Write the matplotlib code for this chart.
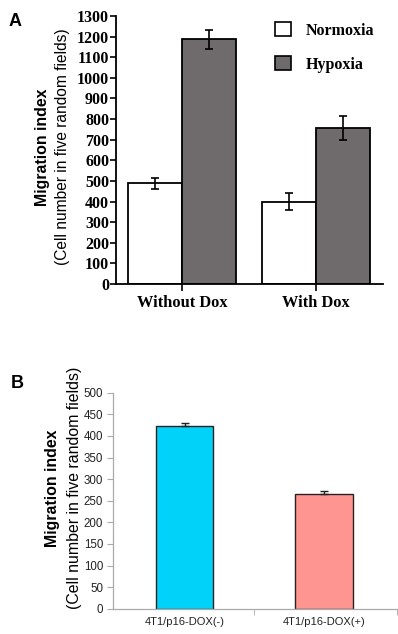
import matplotlib.pyplot as plt
from matplotlib.patches import Patch
import numpy as np

# Panel A data
groups_a = ["Without Dox", "With Dox"]
normoxia = [488, 400]
normoxia_err = [25, 40]
hypoxia = [1187, 757]
hypoxia_err = [45, 60]
yticks_a = list(range(0, 1301, 100))

# Panel B data
groups_b = ["4T1/p16-DOX(-)", "4T1/p16-DOX(+)"]
values_b = [423, 266]
err_b = [7, 7]
colors_b = ["#00d2fa", "#ff9590"]
yticks_b = list(range(0, 501, 50))

W, H = 398, 634
fig = plt.figure(figsize=(W / 100, H / 100), dpi=100)


def rect(l, t, r, b):
    return [l / W, 1 - b / H, (r - l) / W, (b - t) / H]


serif = "Liberation Serif"
sans = "Liberation Sans"

# ---------- Panel A ----------
ax = fig.add_axes(rect(116, 16, 383, 284))
x = np.arange(len(groups_a))
w = 0.403
ax.bar(x - w / 2, normoxia, w, color="white", edgecolor="black", linewidth=1.3,
       yerr=normoxia_err, error_kw=dict(ecolor="black", elinewidth=1.2, capsize=3, capthick=1.2))
ax.bar(x + w / 2, hypoxia, w, color="#6f6b6c", edgecolor="black", linewidth=1.3,
       yerr=hypoxia_err, error_kw=dict(ecolor="black", elinewidth=1.2, capsize=3, capthick=1.2))
ax.set_xlim(-0.4925, 1.5)
ax.set_ylim(0, 1300)
ax.set_yticks(yticks_a)
ax.set_xticks(x)
ax.set_xticklabels(groups_a, fontfamily=serif, fontweight="bold", fontsize=11.8)
for lab in ax.get_yticklabels():
    lab.set_fontfamily(serif)
    lab.set_fontweight("bold")
    lab.set_fontsize(11.5)
ax.tick_params(axis="y", length=4, width=1.2, pad=1)
ax.tick_params(axis="x", length=5, width=1.2, pad=3)
for s in ["top", "right"]:
    ax.spines[s].set_visible(False)
for s in ["left", "bottom"]:
    ax.spines[s].set_linewidth(1.3)
handles = [Patch(facecolor="white", edgecolor="black", linewidth=1.2, label="Normoxia"),
           Patch(facecolor="#6f6b6c", edgecolor="black", linewidth=1.2, label="Hypoxia")]
ax.legend(handles=handles, loc="upper left", bbox_to_anchor=(0.595, 0.978), frameon=False,
          borderpad=0, borderaxespad=0, handlelength=1.0, handleheight=1.0,
          handletextpad=0.95, labelspacing=1.1,
          prop=dict(family=serif, weight="bold", size=11.5))

fig.text(42 / W, 1 - 147 / H, "Migration index", rotation=90, ha="center", va="center",
         fontfamily=sans, fontweight="bold", fontsize=11.4)
fig.text(62 / W, 1 - 147 / H, "(Cell number in five random fields)", rotation=90,
         ha="center", va="center", fontfamily=sans, fontsize=11.2)
fig.text(15 / W, 1 - 22 / H, "A", ha="center", va="center", fontfamily=sans,
         fontweight="bold", fontsize=13)

# ---------- Panel B ----------
bx = fig.add_axes(rect(113, 392.7, 397, 608.7))
xb = np.arange(len(groups_b))
wb = 0.41
bx.bar(xb, values_b, wb, color=colors_b, edgecolor="#2a2020", linewidth=1.0,
       yerr=[[0, 0], err_b], error_kw=dict(ecolor="#222222", elinewidth=1.0, capsize=3, capthick=1.0))
bx.set_xlim(-0.5125, 1.523)
bx.set_ylim(0, 500)
bx.set_yticks(yticks_b)
bx.set_xticks(xb)
bx.set_xticklabels(groups_b, fontfamily=sans, fontsize=8)
bx.set_xticks([0.5, 1.523], minor=True)
bx.tick_params(axis="x", which="major", length=0, pad=6, colors="#222222")
bx.tick_params(axis="x", which="minor", length=4, color="#aaaaaa")
bx.tick_params(axis="y", length=4, color="#aaaaaa", labelcolor="#222222", labelsize=8.3, pad=3)
for lab in bx.get_yticklabels():
    lab.set_fontfamily(sans)
for s in ["top", "right"]:
    bx.spines[s].set_visible(False)
for s in ["left", "bottom"]:
    bx.spines[s].set_color("#aaaaaa")
    bx.spines[s].set_linewidth(0.9)

fig.text(52 / W, 1 - 488 / H, "Migration index", rotation=90, ha="center", va="center",
         fontfamily=sans, fontweight="bold", fontsize=11.4)
fig.text(74 / W, 1 - 488 / H, "(Cell number in five random fields)", rotation=90,
         ha="center", va="center", fontfamily=sans, fontsize=11.4)
fig.text(17 / W, 1 - 383 / H, "B", ha="center", va="center", fontfamily=sans,
         fontweight="bold", fontsize=13)

fig.savefig("out.png", dpi=100)
